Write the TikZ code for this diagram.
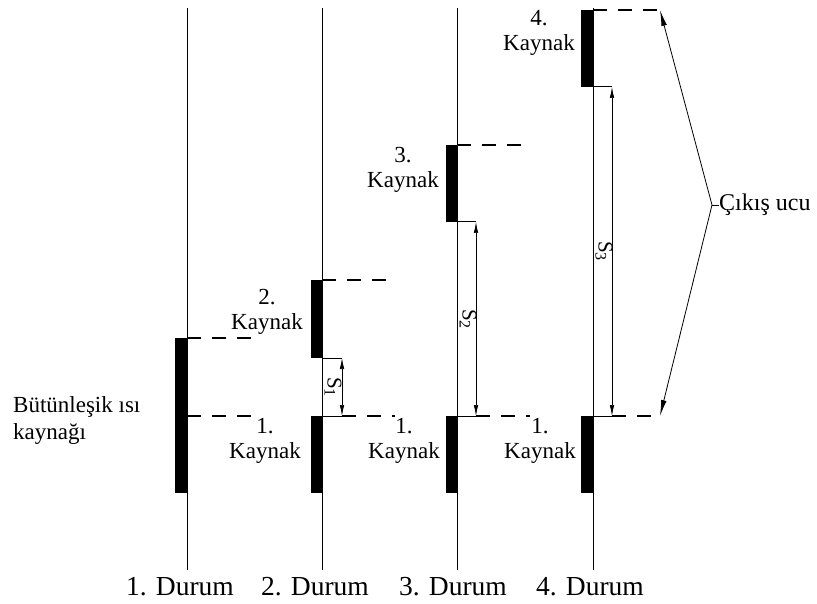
\documentclass[tikz,border=0pt]{standalone}
\usepackage{fontspec}
\setmainfont{Liberation Serif}
\usetikzlibrary{arrows.meta}
\begin{document}
\begin{tikzpicture}[x=1pt,y=-1pt,
 axis/.style={line width=1pt},
 bar/.style={fill=black},
 dsh/.style={line width=1.1pt, dash pattern=on 14pt off 11pt},
 ext/.style={line width=1pt},
 dim/.style={line width=0.7pt, {Latex[length=11pt,width=4.5pt]}-{Latex[length=11pt,width=4.5pt]}},
 lead/.style={line width=0.8pt, -{Latex[length=16pt,width=5.5pt]}},
 lbl/.style={font=\fontsize{23}{25}\selectfont, align=center, inner sep=0pt},
 dur/.style={font=\fontsize{27.5}{30}\selectfont, inner sep=0pt},
 slbl/.style={font=\fontsize{21}{21}\selectfont, rotate=-90, inner sep=1pt}
]
\useasboundingbox (0,0) rectangle (817,604);
\newcommand{\Ssub}[1]{S{\fontsize{16}{16}\selectfont\raisebox{-3pt}{#1}}}

% axes
\coordinate (a1t) at (187,8);   \coordinate (a1b) at (187,570);
\coordinate (a2t) at (322,8);   \coordinate (a2b) at (322,570);
\coordinate (a3t) at (457,8);   \coordinate (a3b) at (457,570);
\coordinate (a4t) at (593,8);   \coordinate (a4b) at (593,570);
\draw[axis] (a1t) -- (a1b);
\draw[axis] (a2t) -- (a2b);
\draw[axis] (a3t) -- (a3b);
\draw[axis] (a4t) -- (a4b);

% bars
\fill[bar] (175,338) rectangle (187,493);
\fill[bar] (311,280) rectangle (322,358);
\fill[bar] (311,416) rectangle (322,493);
\fill[bar] (446,145) rectangle (457,222);
\fill[bar] (446,416) rectangle (457,493);
\fill[bar] (581,10) rectangle (593,87);
\fill[bar] (581,416) rectangle (593,493);

% state 1 dashes
\coordinate (d1a) at (187,338); \coordinate (d1b) at (262,338);
\coordinate (d1c) at (187,416); \coordinate (d1d) at (262,416);
\draw[dsh] (d1a) -- (d1b);
\draw[dsh] (d1c) -- (d1d);

% state 2
\coordinate (t2a) at (322,280); \coordinate (t2b) at (390,280);
\draw[dsh] (t2a) -- (t2b);
\coordinate (e2a) at (322,358); \coordinate (e2b) at (342,358);
\coordinate (e2c) at (322,416); \coordinate (e2d) at (342,416);
\coordinate (e2e) at (395,416);
\draw[ext] (e2a) -- (e2b);
\draw[ext] (e2c) -- (e2d);
\draw[dsh] (e2d) -- (e2e);
\draw[dim] (e2b) -- (e2d);
\node[slbl] (s1) at (333,387) {\Ssub{1}};

% state 3
\coordinate (t3a) at (457,145); \coordinate (t3b) at (525,145);
\draw[dsh] (t3a) -- (t3b);
\coordinate (e3a) at (457,222); \coordinate (e3b) at (476,222);
\coordinate (e3c) at (457,416); \coordinate (e3d) at (476,416);
\coordinate (e3e) at (530,416);
\draw[ext] (e3a) -- (e3b);
\draw[ext] (e3c) -- (e3d);
\draw[dsh] (e3d) -- (e3e);
\draw[dim] (e3b) -- (e3d);
\node[slbl] (s2) at (468,319) {\Ssub{2}};

% state 4
\coordinate (t4a) at (593,10); \coordinate (t4b) at (660,10);
\draw[dsh] (t4a) -- (t4b);
\coordinate (e4a) at (593,87); \coordinate (e4b) at (612,87);
\coordinate (e4c) at (593,416); \coordinate (e4d) at (612,416);
\coordinate (e4e) at (660,416);
\draw[ext] (e4a) -- (e4b);
\draw[ext] (e4c) -- (e4d);
\draw[dsh] (e4d) -- (e4e);
\draw[dim] (e4b) -- (e4d);
\node[slbl] (s3) at (604,251) {\Ssub{3}};

% output tip
\coordinate (cv) at (712,205);
\coordinate (cl) at (719,205);
\draw[lead] (cv) -- (t4b);
\draw[lead] (cv) -- (e4e);
\draw[line width=0.8pt] (cv) -- (cl);
\node[lbl, anchor=west, font=\fontsize{24}{26}\selectfont] (cu) at (cl) {Çıkış ucu};

% labels
\node[lbl] (k2) at (267,312) {2.\\Kaynak};
\node[lbl] (k1b) at (265,441) {1.\\Kaynak};
\node[lbl] (k3) at (403,170) {3.\\Kaynak};
\node[lbl] (k1c) at (404,441) {1.\\Kaynak};
\node[lbl] (k4) at (539,33) {4.\\Kaynak};
\node[lbl] (k1d) at (540,441) {1.\\Kaynak};
\node[lbl, align=left, anchor=west, font=\fontsize{23}{27}\selectfont] (bu) at (13,421) {Bütünleşik ısı\\kaynağı};

\node[dur] (u1) at (180,587) {1. Durum};
\node[dur] (u2) at (315,587) {2. Durum};
\node[dur] (u3) at (453,587) {3. Durum};
\node[dur] (u4) at (590,587) {4. Durum};
\end{tikzpicture}
\end{document}
